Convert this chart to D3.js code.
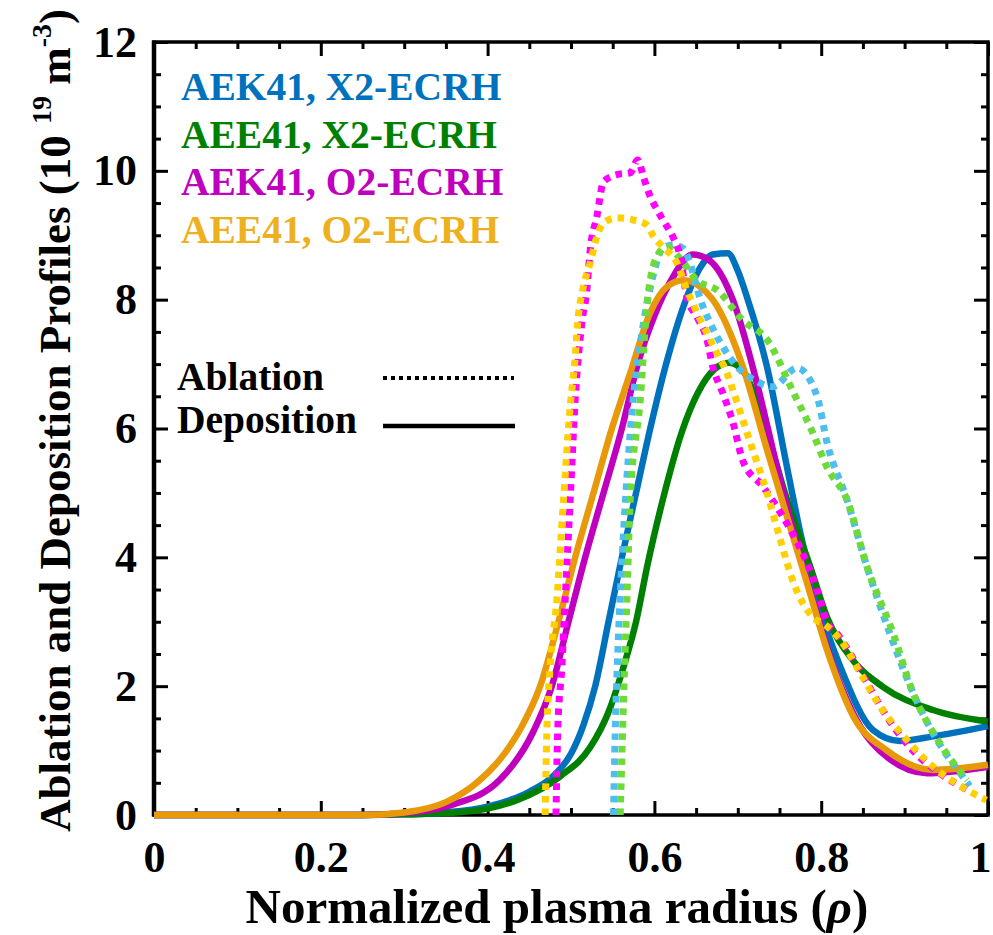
<!DOCTYPE html>
<html>
<head>
<meta charset="utf-8">
<script src="https://cdn.jsdelivr.net/npm/d3@7"></script>
<style>
  body { margin: 0; background: #fff; }
  svg { display: block; }
  text { font-family: "Liberation Serif", "Times New Roman", serif; font-weight: bold; }
</style>
</head>
<body>
<svg id="chart" width="993" height="935"></svg>
<script>
// ---------------- DATA ----------------
const seriesNames = ["AEK41, X2-ECRH", "AEE41, X2-ECRH", "AEK41, O2-ECRH", "AEE41, O2-ECRH"];
const xTicks = [0, 0.2, 0.4, 0.6, 0.8, 1];
const xTickLabels = ["0", "0.2", "0.4", "0.6", "0.8", "1"];
const yTicks = [0, 2, 4, 6, 8, 10, 12];
const yTickLabels = ["0", "2", "4", "6", "8", "10", "12"];

// Deposition (solid)
const aek41X2DepX = [0, 0.25, 0.3, 0.35, 0.4, 0.45, 0.48, 0.5, 0.515, 0.529, 0.545, 0.561, 0.578, 0.595, 0.614, 0.635, 0.655, 0.67, 0.688, 0.7, 0.712, 0.735, 0.759, 0.775, 0.795, 0.823, 0.862, 0.894, 0.934, 1.0];
const aek41X2DepY = [0, 0, 0.01, 0.04, 0.13, 0.36, 0.62, 0.95, 1.4, 2.0, 3.0, 4.0, 5.0, 6.0, 7.0, 7.9, 8.5, 8.7, 8.72, 8.45, 8.0, 6.96, 5.4, 4.38, 3.34, 2.3, 1.32, 1.15, 1.22, 1.38];

const aee41X2DepX = [0, 0.25, 0.3, 0.35, 0.4, 0.435, 0.487, 0.523, 0.545, 0.563, 0.578, 0.592, 0.61, 0.633, 0.652, 0.672, 0.69, 0.706, 0.735, 0.759, 0.787, 0.807, 0.835, 0.874, 0.934, 1.0];
const aee41X2DepY = [0, 0, 0.01, 0.03, 0.1, 0.23, 0.6, 1.05, 1.6, 2.3, 3.0, 3.9, 4.89, 5.95, 6.55, 6.92, 7.02, 6.9, 5.93, 4.89, 3.85, 3.07, 2.45, 1.99, 1.63, 1.45];

const aek41O2DepX = [0, 0.25, 0.3, 0.355, 0.415, 0.455, 0.477, 0.497, 0.517, 0.539, 0.561, 0.58, 0.6, 0.62, 0.646, 0.665, 0.694, 0.723, 0.747, 0.767, 0.79, 0.815, 0.847, 0.879, 0.927, 1.0];
const aek41O2DepY = [0, 0, 0.03, 0.15, 0.55, 1.3, 2.0, 3.0, 4.0, 5.0, 6.0, 7.0, 7.75, 8.3, 8.7, 8.62, 8.0, 6.7, 5.4, 4.38, 3.34, 2.3, 1.37, 0.9, 0.65, 0.75];

const aee41O2DepX = [0, 0.25, 0.3, 0.35, 0.387, 0.42, 0.44, 0.463, 0.485, 0.505, 0.527, 0.549, 0.571, 0.595, 0.615, 0.635, 0.655, 0.67, 0.706, 0.735, 0.759, 0.783, 0.807, 0.839, 0.879, 0.934, 1.0];
const aee41O2DepY = [0, 0, 0.04, 0.2, 0.5, 0.95, 1.35, 2.0, 3.0, 4.0, 5.0, 6.0, 6.86, 7.8, 8.2, 8.3, 8.2, 8.0, 6.96, 5.67, 4.63, 3.6, 2.56, 1.52, 1.0, 0.7, 0.78];

// Ablation (dotted)
const aek41X2AblX = [0.551, 0.553, 0.557, 0.563, 0.571, 0.587, 0.599, 0.61, 0.622, 0.634, 0.658, 0.682, 0.7, 0.72, 0.742, 0.771, 0.795, 0.807, 0.831, 0.855, 0.882, 0.91, 0.934, 0.97, 0.978];
const aek41X2AblY = [0, 1.27, 2.8, 4.38, 5.93, 7.64, 8.4, 8.8, 8.85, 8.8, 7.9, 7.27, 6.95, 6.75, 6.65, 6.94, 6.5, 5.78, 4.89, 3.85, 2.83, 1.9, 1.27, 0.59, 0.45];

const aee41X2AblX = [0.559, 0.563, 0.567, 0.571, 0.583, 0.591, 0.603, 0.615, 0.63, 0.651, 0.675, 0.706, 0.735, 0.767, 0.79, 0.807, 0.831, 0.855, 0.886, 0.91, 0.942, 0.975];
const aee41X2AblY = [0, 1.79, 3.34, 4.89, 6.44, 7.9, 8.67, 8.82, 8.65, 8.3, 8.15, 7.68, 7.38, 6.55, 5.93, 5.4, 4.89, 3.85, 2.83, 1.9, 1.12, 0.54];

const aek41O2AblX = [0.482, 0.484, 0.489, 0.493, 0.499, 0.505, 0.513, 0.519, 0.523, 0.531, 0.539, 0.555, 0.571, 0.58, 0.587, 0.595, 0.603, 0.61, 0.622, 0.631, 0.639, 0.651, 0.663, 0.67, 0.682, 0.694, 0.706, 0.73, 0.76, 0.78, 0.795, 0.807, 0.82, 0.835, 0.855, 0.879, 0.91, 0.942, 0.975];
const aek41O2AblY = [0, 1.27, 2.3, 3.34, 4.89, 6.44, 7.64, 8.15, 8.77, 9.29, 9.83, 9.94, 9.97, 10.17, 9.9, 9.6, 9.4, 9.24, 8.98, 8.67, 8.04, 7.73, 7.38, 6.96, 6.55, 6.1, 5.5, 5.1, 4.5, 4.0, 3.5, 3.0, 2.8, 2.5, 2.05, 1.52, 1.0, 0.65, 0.39];

const aee41O2AblX = [0.469, 0.471, 0.475, 0.483, 0.491, 0.499, 0.505, 0.508, 0.514, 0.523, 0.531, 0.539, 0.555, 0.574, 0.591, 0.599, 0.61, 0.627, 0.639, 0.651, 0.663, 0.675, 0.687, 0.694, 0.715, 0.735, 0.751, 0.767, 0.79, 0.805, 0.823, 0.847, 0.871, 0.903, 0.934, 0.975, 0.998];
const aee41O2AblY = [0, 1.27, 2.3, 3.34, 4.89, 6.34, 7.1, 7.64, 8.15, 8.57, 8.98, 9.19, 9.27, 9.24, 9.16, 8.98, 8.82, 8.57, 8.15, 7.8, 7.48, 7.17, 6.86, 6.6, 5.78, 5.0, 4.27, 3.6, 3.07, 2.95, 2.72, 2.2, 1.68, 1.16, 0.75, 0.39, 0.23];

// ---------------- LAYOUT ----------------
const svg = d3.select("#chart");
const L = 154, R = 988, T = 42, B = 815;
const x = d3.scaleLinear().domain([0, 1]).range([L, R]);
const y = d3.scaleLinear().domain([0, 12]).range([B, T]);

const font = '"Liberation Serif", "Times New Roman", serif';

const xMinor = d3.range(0, 1.0001, 0.05).filter(v => Math.abs(v * 5 - Math.round(v * 5)) > 1e-6);
const yMinor = d3.range(0, 12.0001, 0.5).filter(v => Math.abs(v / 2 - Math.round(v / 2)) > 1e-6);

function styleAxis(g) {
  g.select(".domain").remove();
  g.selectAll(".tick line").attr("stroke", "#000").attr("stroke-width", 3);
}

// bottom
svg.append("g").attr("transform", `translate(0,${B})`)
  .call(d3.axisBottom(x).tickValues(xMinor).tickSize(-7).tickFormat("")).call(styleAxis);
const bx = svg.append("g").attr("transform", `translate(0,${B})`)
  .call(d3.axisBottom(x).tickValues(xTicks).tickSize(-14).tickPadding(26)
    .tickFormat((d, i) => xTickLabels[i])).call(styleAxis);
bx.selectAll("text").attr("font-size", 44).attr("font-family", font).attr("font-weight", "bold").attr("fill", "#000")
  .attr("dx", d => d === 1 ? -8 : 0);
// top
svg.append("g").attr("transform", `translate(0,${T})`)
  .call(d3.axisTop(x).tickValues(xMinor).tickSize(-7).tickFormat("")).call(styleAxis);
svg.append("g").attr("transform", `translate(0,${T})`)
  .call(d3.axisTop(x).tickValues(xTicks).tickSize(-14).tickFormat("")).call(styleAxis);
// left
svg.append("g").attr("transform", `translate(${L},0)`)
  .call(d3.axisLeft(y).tickValues(yMinor).tickSize(-7).tickFormat("")).call(styleAxis);
svg.append("g").attr("transform", `translate(${L},0)`)
  .call(d3.axisLeft(y).tickValues(yTicks).tickSize(-14).tickPadding(17)
    .tickFormat((d, i) => yTickLabels[i])).call(styleAxis)
  .selectAll("text").attr("font-size", 44).attr("font-family", font).attr("font-weight", "bold").attr("fill", "#000");
// right
svg.append("g").attr("transform", `translate(${R},0)`)
  .call(d3.axisRight(y).tickValues(yMinor).tickSize(-7).tickFormat("")).call(styleAxis);
svg.append("g").attr("transform", `translate(${R},0)`)
  .call(d3.axisRight(y).tickValues(yTicks).tickSize(-14).tickFormat("")).call(styleAxis);

// frame
svg.append("rect").attr("x", L).attr("y", T).attr("width", R - L).attr("height", B - T)
  .attr("fill", "none").attr("stroke", "#000").attr("stroke-width", 3.5);
svg.append("line").attr("x1", L).attr("x2", L).attr("y1", T - 1.5).attr("y2", B + 1.5)
  .attr("stroke", "#000").attr("stroke-width", 4.5);

// ---------------- CURVES ----------------
const line = d3.line().x(d => x(d[0])).y(d => y(d[1])).curve(d3.curveMonotoneX);
const zip = (xs, ys) => xs.map((v, i) => [v, ys[i]]);

const solids = [
  { xs: aek41X2DepX, ys: aek41X2DepY, color: "#0072BD" },
  { xs: aee41X2DepX, ys: aee41X2DepY, color: "#008000" },
  { xs: aek41O2DepX, ys: aek41O2DepY, color: "#BF00BF" },
  { xs: aee41O2DepX, ys: aee41O2DepY, color: "#E8990A" }
];
const dotted = [
  { xs: aek41X2AblX, ys: aek41X2AblY, color: "#4DBEEE" },
  { xs: aee41X2AblX, ys: aee41X2AblY, color: "#6CDB3A" },
  { xs: aek41O2AblX, ys: aek41O2AblY, color: "#FF00FF" },
  { xs: aee41O2AblX, ys: aee41O2AblY, color: "#FFD000" }
];

solids.forEach(s => {
  svg.append("path").datum(zip(s.xs, s.ys)).attr("d", line)
    .attr("fill", "none").attr("stroke", s.color).attr("stroke-width", 6.5)
    .attr("stroke-linejoin", "round");
});
dotted.forEach(s => {
  svg.append("path").datum(zip(s.xs, s.ys)).attr("d", line)
    .attr("fill", "none").attr("stroke", s.color).attr("stroke-width", 7)
    .attr("stroke-dasharray", "6.5,6").attr("stroke-linecap", "butt");
});

// ---------------- LEGEND ----------------
const legendColors = ["#0072BD", "#008000", "#BF00BF", "#EDB120"];
seriesNames.forEach((n, i) => {
  svg.append("text").attr("x", 181).attr("y", 100 + i * 47.7)
    .attr("font-size", 39.5).attr("fill", legendColors[i]).text(n);
});
svg.append("text").attr("x", 177).attr("y", 390).attr("font-size", 39.5).attr("fill", "#000").text("Ablation");
svg.append("text").attr("x", 177).attr("y", 433).attr("font-size", 39.5).attr("fill", "#000").text("Deposition");
svg.append("line").attr("x1", 383).attr("x2", 514).attr("y1", 378).attr("y2", 378)
  .attr("stroke", "#000").attr("stroke-width", 4).attr("stroke-dasharray", "4,4");
svg.append("line").attr("x1", 383).attr("x2", 515).attr("y1", 426).attr("y2", 426)
  .attr("stroke", "#000").attr("stroke-width", 4.5);

// ---------------- AXIS TITLES ----------------
const xt = svg.append("text").attr("x", 557).attr("y", 923).attr("text-anchor", "middle")
  .attr("font-size", 49).attr("fill", "#000");
xt.append("tspan").text("Normalized plasma radius (");
xt.append("tspan").attr("font-style", "italic").text("ρ");
xt.append("tspan").text(")");

const yt = svg.append("text").attr("transform", "translate(70,832) rotate(-90)")
  .attr("x", 0).attr("y", 0).attr("font-size", 45).attr("fill", "#000");
yt.append("tspan").text("Ablation and Deposition Profiles (10 ");
yt.append("tspan").attr("font-size", 28).attr("dy", -19).text("19");
yt.append("tspan").attr("dy", 19).text(" m");
yt.append("tspan").attr("font-size", 28).attr("dy", -19).text("-3");
yt.append("tspan").attr("dy", 19).text(")");
</script>
</body>
</html>
